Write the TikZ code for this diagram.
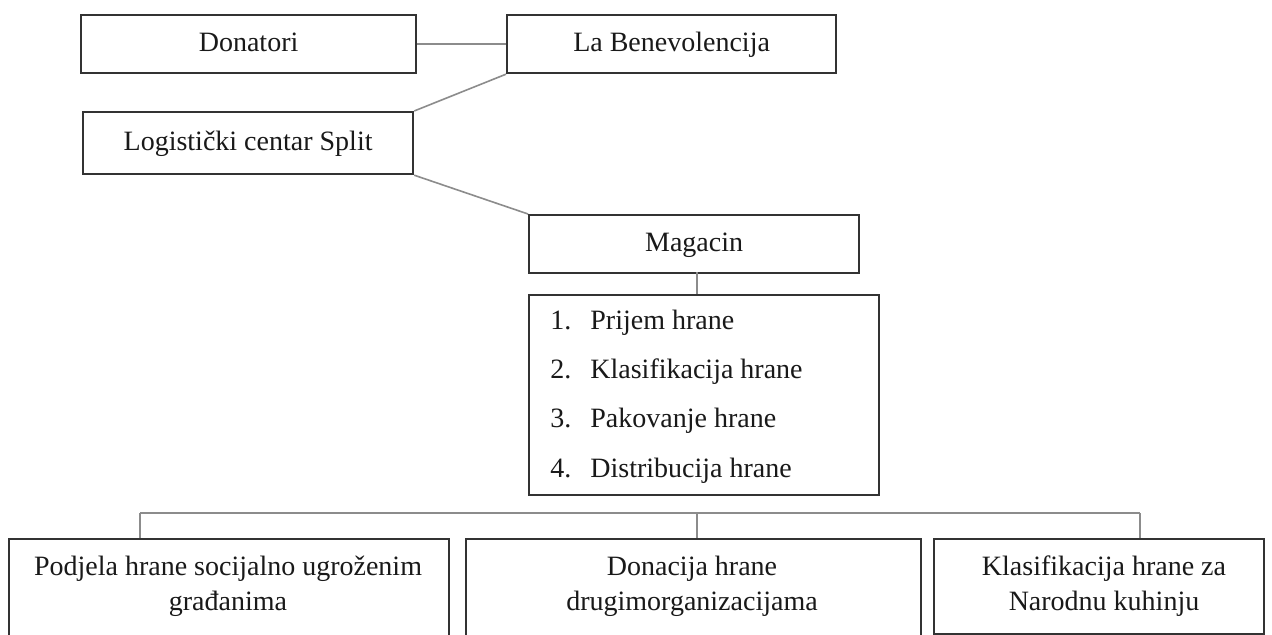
\documentclass[tikz,border=0pt]{standalone}
\usepackage{fontspec}
\setmainfont{Liberation Serif}
\tikzset{
  box/.style={draw=black!80,line width=1.1pt,rectangle,inner sep=0pt,anchor=north west,
    text=black!90,font=\fontsize{14pt}{17.5pt}\selectfont,text height=10pt,text depth=3pt},
  boxtext/.style={align=center,inner sep=0pt,text=black!90,font=\fontsize{14pt}{17.5pt}\selectfont},
  link/.style={draw=black!45,line width=0.8pt},
  item/.style={anchor=west,inner sep=0pt,text=black!90,font=\fontsize{14pt}{16pt}\selectfont,
    text height=10pt,text depth=3pt}
}
\begin{document}
\begin{tikzpicture}[x=0.5pt,y=-0.5pt]
    \useasboundingbox[fill=white] (0,0) rectangle (1272,635);
    % top row
    \node[box,minimum width=167.5pt,minimum height=29pt] (donors) at (80,14) {Donatori};
    \node[box,minimum width=164.5pt,minimum height=29pt] (bene) at (506,14) {La Benevolencija};
    \node[box,minimum width=165pt,minimum height=31pt] (logistic) at (82,111) {Logistički centar Split};
    % warehouse
    \node[box,minimum width=165pt,minimum height=29pt] (store) at (528,214) {Magacin};
    \node[box,minimum width=175pt,minimum height=100pt] (tasks) at (528,294) {};
    \foreach \n/\y/\txt in {1/323/Prijem hrane,2/372/Klasifikacija hrane,3/421/Pakovanje hrane,4/470/Distribucija hrane}{
        \node[item] (num\n) at (550,\y) {\n.};
        \node[item] (task\n) at (590,\y) {\txt};
    }
    % bottom row
    \node[box,minimum width=220pt,minimum height=55pt] (share) at (8,538) {};
    \node[boxtext] (shareText) at (228,586) {Podjela hrane socijalno ugroženim\\građanima};
    \node[box,minimum width=227.5pt,minimum height=55pt] (give) at (465,538) {};
    \node[boxtext] (giveText) at (692,586) {Donacija hrane\\drugimorganizacijama};
    \node[box,minimum width=165pt,minimum height=47.5pt] (kitchen) at (933,538) {};
    \node[boxtext] (kitchenText) at (1104,586) {Klasifikacija hrane za\\Narodnu kuhinju};
    % connectors
    \draw[link] (donors.east) -- (bene.west);
    \draw[link] (logistic.north east) -- (bene.south west);
    \draw[link] (logistic.south east) -- (store.north west);
    \coordinate (drop) at (697,272);
    \draw[link] (drop) -- (drop |- tasks.north);
    \coordinate (busL) at (140,513);
    \coordinate (busM) at (697,513);
    \coordinate (busR) at (1140,513);
    \draw[link] (busL) -- (busR);
    \draw[link] (busL) -- (busL |- share.north);
    \draw[link] (busM) -- (busM |- give.north);
    \draw[link] (busR) -- (busR |- kitchen.north);
\end{tikzpicture}
\end{document}
